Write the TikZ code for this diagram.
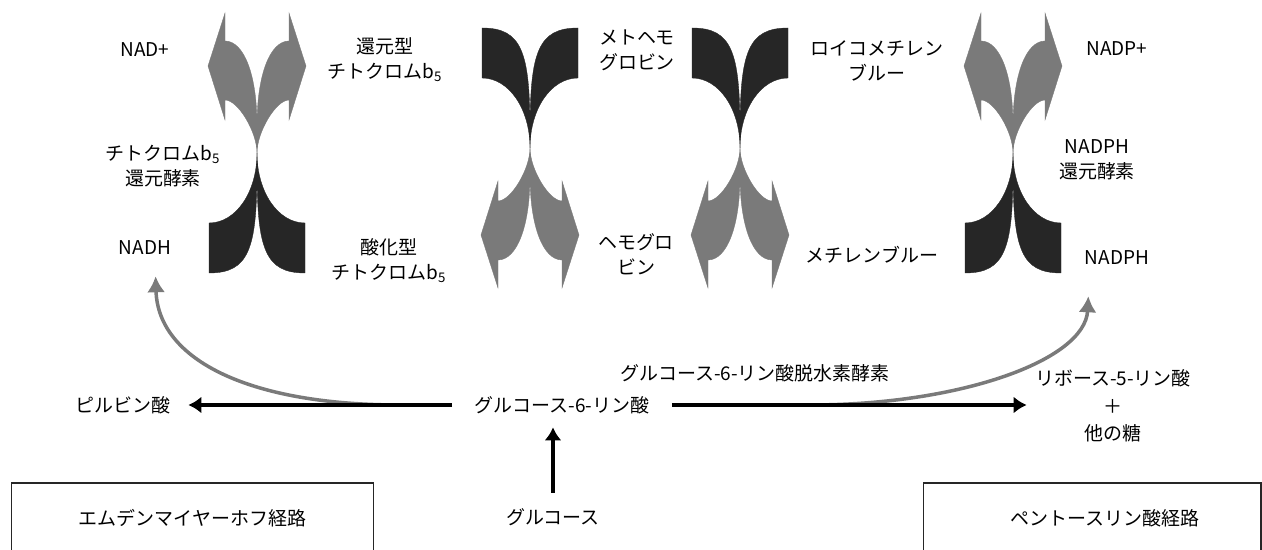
\documentclass[tikz,border=0pt]{standalone}
\usepackage{fontspec}
\setmainfont{Noto Sans CJK JP}
\usetikzlibrary{arrows.meta}

\definecolor{arrowgray}{HTML}{7A7A7A}
\definecolor{taildark}{HTML}{262626}

\tikzset{
  lbl/.style={align=center, inner sep=0pt, font=\fontsize{10.8}{14.2}\selectfont},
  pathbox/.style={lbl, draw=black!85, line width=0.6pt, minimum height=1.4cm},
  blk/.style={line width=0.08cm, -{Latex[length=0.26cm,width=0.34cm]}},
  gry/.style={arrowgray, line width=0.07cm, -{Latex[length=0.32cm,width=0.36cm]}},
}

\begin{document}
\begin{tikzpicture}[x=0.02cm, y=-0.02cm]
\useasboundingbox (0,0) rectangle (1262,550);

% Pfeilpaare (grau) und Enden (dunkel)
\foreach \cx/\cy/\sy in {257/153/1, 1013/153/1, 530/148/-1, 740/148/-1}
  \foreach \sx in {1,-1}
  {
  \begin{scope}[shift={(\cx,\cy)}, xscale=\sx, yscale=\sy]
    \filldraw[arrowgray, line width=0.2pt] (0,0) .. controls (0,-21) and (19,-53) .. (32,-53)
      -- (32,-33) -- (49,-87) -- (32,-140) -- (32,-112)
      .. controls (13,-112) and (0,-78) .. (0,-28) -- cycle;
    \filldraw[taildark, line width=0.2pt] (0,0) .. controls (0,39) and (21,70) .. (48,70)
      -- (48,120) .. controls (8,120) and (0,96) .. (0,16) -- cycle;
  \end{scope}
  }

% Beschriftung oben
  \node[lbl] (nadplus) at (145,50) {NAD+};
  \node[lbl] (nadh) at (145,248) {NADH};
  \node[lbl] (cbred) at (385,60) {還元型\\チトクロムb\textsubscript{5}};
  \node[lbl] (cbox) at (389,261) {酸化型\\チトクロムb\textsubscript{5}};
  \node[lbl] (cbrase) at (163,166) {チトクロムb\textsubscript{5}\\還元酵素};
  \node[lbl] (methb) at (637,50) {メトヘモ\\グロビン};
  \node[lbl] (hb) at (636,254) {ヘモグロ\\ビン};
  \node[lbl] (leuco) at (877,61) {ロイコメチレン\\ブルー};
  \node[lbl] (mblue) at (872,255) {メチレンブルー};
  \node[lbl] (nadpplus) at (1117,49) {NADP+};
  \node[lbl] (nadphrase) at (1097,160) {NADPH\\還元酵素};
  \node[lbl] (nadph) at (1117,258) {NADPH};

% Stoffwechsel unten
  \node[lbl, minimum width=2.6cm] (pyr) at (123,405) {ピルビン酸};
  \node[lbl, minimum width=4.38cm, minimum height=0.88cm] (g6p) at (562,405) {グルコース-6-リン酸};
  \node[lbl] (g6pd) at (755,373) {グルコース-6-リン酸脱水素酵素};
  \node[lbl, minimum width=3.44cm] (r5p) at (1113,406) {リボース-5-リン酸\\[1.4pt]＋\\[1.4pt]他の糖};
  \node[lbl, minimum height=0.96cm] (glc) at (553,517) {グルコース};
  \node[pathbox, minimum width=7.26cm] (emp) at (192.5,518) {エムデンマイヤーホフ経路};
  \node[pathbox, minimum width=6.76cm] (ppp) at (1092,518) {\hspace*{0.52cm}ペントースリン酸経路};

  \coordinate (gl) at (400,405);
  \coordinate (gr) at (810,405);

% Pfeile
  \draw[gry, shorten >=0.42cm] (gl) .. controls +(-150,0) and +(3,105) .. ([xshift=0.2cm]nadh.south);
  \draw[gry, shorten >=0.62cm] (gr) .. controls +(150,0) and +(-5,95) .. ([xshift=-0.54cm]nadph.south);
  \draw[blk] (g6p.west) -- (pyr.east);
  \draw[blk] (g6p.east) -- (g6p.east -| r5p.west);
  \draw[blk] (glc.north) -- (glc.north |- g6p.south);
\end{tikzpicture}
\end{document}
